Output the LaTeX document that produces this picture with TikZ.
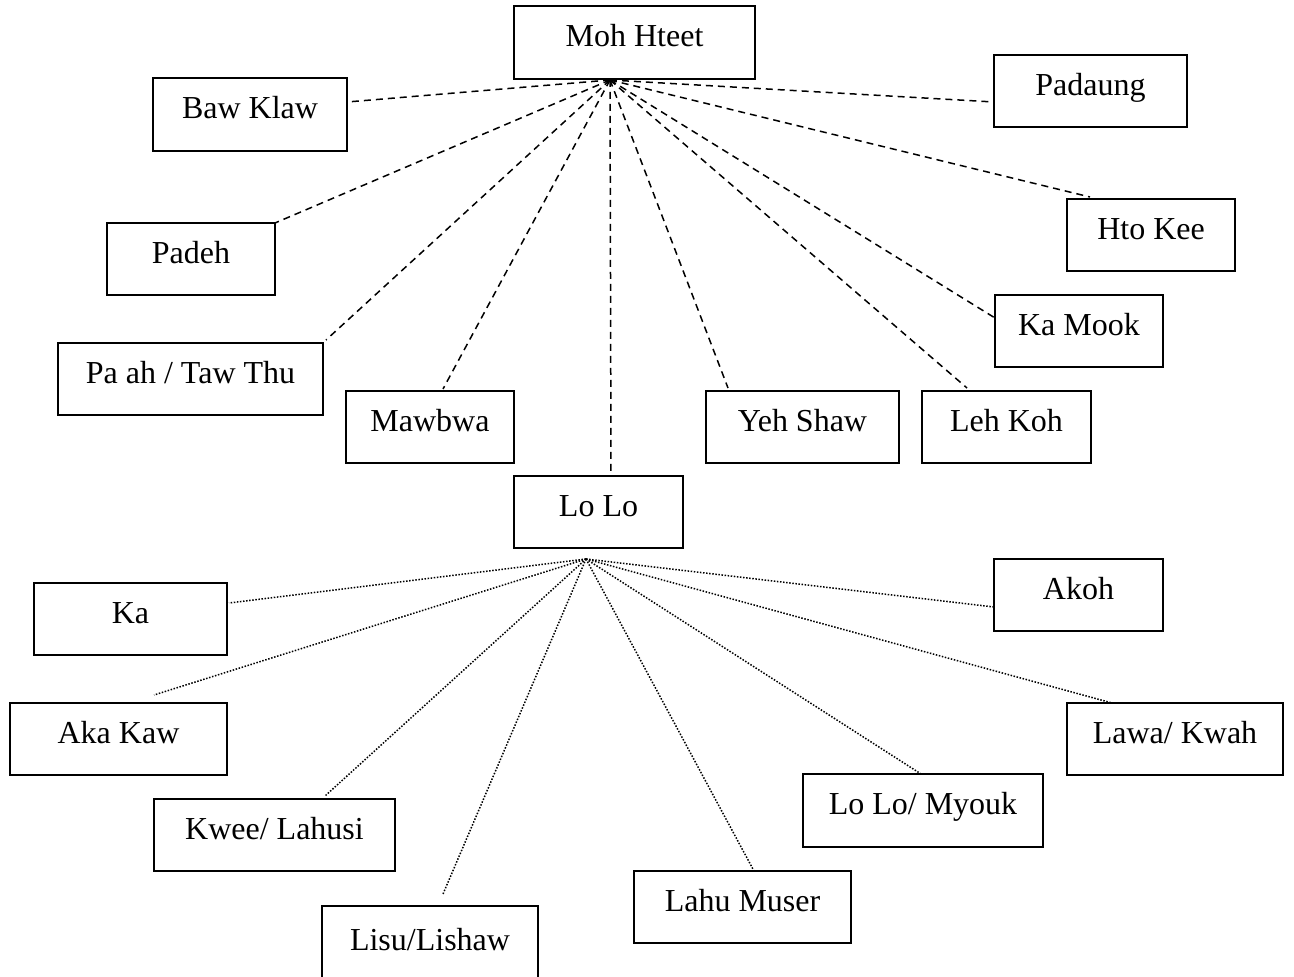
\documentclass[tikz,border=0pt]{standalone}
\usepackage{fontspec}
\setmainfont{Liberation Serif}
\usetikzlibrary{calc}
\tikzset{
  tbox/.style={draw, line width=1pt, anchor=north west, outer sep=0pt,
    inner sep=0pt, minimum height=36pt,
    text height=10pt, text depth=5.75pt, font=\fontsize{16pt}{19pt}\selectfont},
  dashlink/.style={line width=0.75pt, dash pattern=on 3.5pt off 2.5pt},
  dotlink/.style={line width=0.75pt, dash pattern=on 0.75pt off 0.8pt}
}
\begin{document}
\begin{tikzpicture}[x=0.5pt, y=-0.5pt]
\useasboundingbox (0,0) rectangle (1294,977);

% upper group
\node[tbox, minimum width=120.5pt, minimum height=36.5pt] (mohhteet) at (514,6) {Moh Hteet};
\node[tbox, minimum width=97pt, minimum height=36.5pt] (bawklaw) at (153,78) {Baw Klaw};
\node[tbox, minimum width=84pt]    (padeh)   at (107,223) {Padeh};
\node[tbox, minimum width=132.5pt] (paah)    at (58,343)  {Pa ah / Taw Thu};
\node[tbox, minimum width=84pt]    (mawbwa)  at (346,391) {Mawbwa};
\node[tbox, minimum width=84.5pt]  (lolo)    at (514,476) {Lo Lo};
\node[tbox, minimum width=96.5pt]  (yehshaw) at (706,391) {Yeh Shaw};
\node[tbox, minimum width=84.5pt]  (lehkoh)  at (922,391) {Leh Koh};
\node[tbox, minimum width=84pt]    (kamook)  at (995,295) {Ka Mook};
\node[tbox, minimum width=84pt]    (htokee)  at (1067,199) {Hto Kee};
\node[tbox, minimum width=96.5pt]  (padaung) at (994,55)  {Padaung};

% lower group
\node[tbox, minimum width=96.5pt]  (ka)     at (34,583)  {Ka};
\node[tbox, minimum width=108.5pt] (akakaw) at (10,703)  {Aka Kaw};
\node[tbox, minimum width=120.5pt] (kwee)   at (154,799) {Kwee/ Lahusi};
\node[tbox, minimum width=108pt, minimum height=40pt] (lisu) at (322,906) {Lisu/Lishaw};
\node[tbox, minimum width=108.5pt] (lahu)   at (634,871) {Lahu Muser};
\node[tbox, minimum width=120pt, minimum height=36.5pt] (myouk) at (803,774) {Lo Lo/ Myouk};
\node[tbox, minimum width=108pt]   (lawa)   at (1067,703) {Lawa/ Kwah};
\node[tbox, minimum width=84.5pt]  (akoh)   at (994,559) {Akoh};

% meeting points of the fans
\coordinate (hubA) at ($(mohhteet.north west)+(96,74)$);
\coordinate (hubB) at ($(lolo.north west)+(72,83)$);

% dashed fan below Moh Hteet
\draw[dashlink] (hubA) -- ($(bawklaw.north east)+(0,24)$);
\draw[dashlink] (hubA) -- (padeh.north east);
\draw[dashlink] (hubA) -- ($(paah.north east)+(3,-3)$);
\draw[dashlink] (hubA) -- ($(mawbwa.north west)+(97,-2)$);
\draw[dashlink] (hubA) -- ($(lolo.north west)+(97,0)$);
\draw[dashlink] (hubA) -- ($(yehshaw.north west)+(22,-3)$);
\draw[dashlink] (hubA) -- ($(lehkoh.north west)+(45,-3)$);
\draw[dashlink] (hubA) -- ($(kamook.north west)+(0,23)$);
\draw[dashlink] (hubA) -- ($(htokee.north west)+(23,-2)$);
\draw[dashlink] (hubA) -- ($(padaung.north west)+(0,47)$);

% dotted fan below Lo Lo
\draw[dotlink] (hubB) -- ($(ka.north east)+(2,20)$);
\draw[dotlink] (hubB) -- ($(akakaw.north west)+(144,-8)$);
\draw[dotlink] (hubB) -- ($(kwee.north west)+(171,-3)$);
\draw[dotlink] (hubB) -- ($(lisu.north west)+(121,-12)$);
\draw[dotlink] (hubB) -- ($(lahu.north west)+(120,0)$);
\draw[dotlink] (hubB) -- ($(myouk.north west)+(118,0)$);
\draw[dotlink] (hubB) -- ($(lawa.north west)+(45,0)$);
\draw[dotlink] (hubB) -- ($(akoh.north west)+(0,48)$);
\end{tikzpicture}
\end{document}
